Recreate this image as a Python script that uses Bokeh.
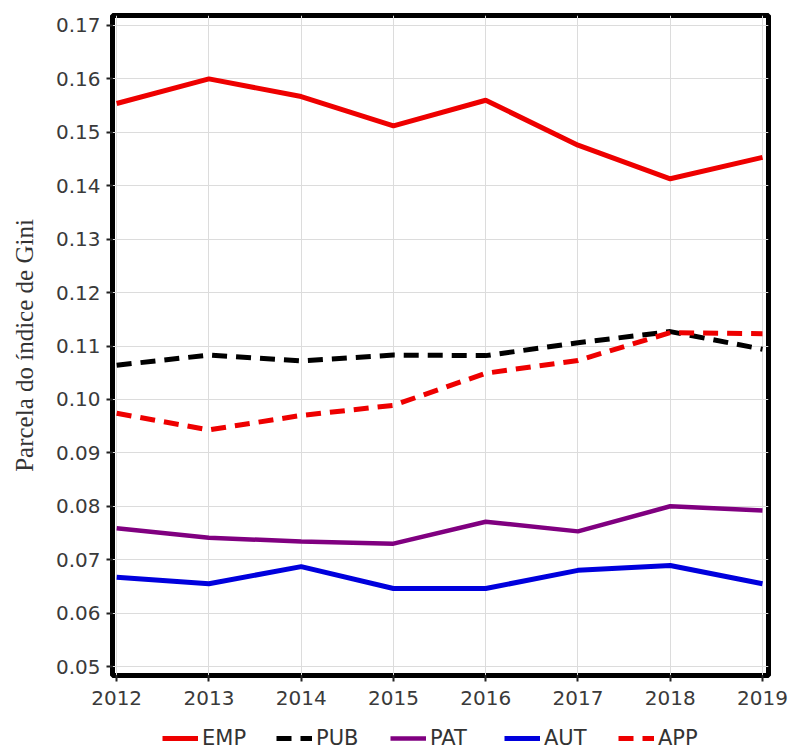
from bokeh.plotting import figure
from bokeh.layouts import column
from bokeh.models import Legend, LegendItem, FixedTicker, Range1d, CustomJSTickFormatter
from bokeh.embed import file_html
from bokeh.resources import INLINE

# Share of each income source in the Gini index, 2012-2019
years = [2012, 2013, 2014, 2015, 2016, 2017, 2018, 2019]
emp = [0.1554, 0.1600, 0.1567, 0.1512, 0.1560, 0.1476, 0.1413, 0.1453]
pub = [0.1064, 0.1083, 0.1072, 0.1083, 0.1082, 0.1106, 0.1127, 0.1094]
pat = [0.0759, 0.0741, 0.0734, 0.0730, 0.0771, 0.0753, 0.0800, 0.0792]
aut = [0.0667, 0.0655, 0.0687, 0.0646, 0.0646, 0.0680, 0.0689, 0.0655]
app = [0.0974, 0.0943, 0.0970, 0.0989, 0.1049, 0.1073, 0.1125, 0.1123]

series_names = ["EMP", "PUB", "PAT", "AUT", "APP"]
series_values = [emp, pub, pat, aut, app]
y_ticks = [0.05, 0.06, 0.07, 0.08, 0.09, 0.10, 0.11, 0.12, 0.13, 0.14, 0.15, 0.16, 0.17]

styles = [
    dict(line_color="#ee0000", line_width=5),
    dict(line_color="black", line_width=5, line_dash="15 9"),
    dict(line_color="#800080", line_width=4.5),
    dict(line_color="#0000dd", line_width=5),
    dict(line_color="#ee0000", line_width=5, line_dash="15 9"),
]

p = figure(
    width=791, height=713,
    output_backend="svg", toolbar_location=None,
    x_range=Range1d(2011.955, 2019.065),
    y_range=Range1d(0.04832, 0.17187),
    min_border_left=112, min_border_right=23,
    min_border_top=15, min_border_bottom=38,
)
p.background_fill_color = "white"
p.border_fill_color = "white"
p.outline_line_color = "black"
p.outline_line_width = 5

# grid
p.xgrid.grid_line_color = "#dcdcdc"
p.ygrid.grid_line_color = "#dcdcdc"
p.xgrid.grid_line_width = 1
p.ygrid.grid_line_width = 1

# axes
p.xaxis.ticker = FixedTicker(ticks=years)
p.yaxis.ticker = FixedTicker(ticks=y_ticks)
p.yaxis.formatter = CustomJSTickFormatter(code="return tick.toFixed(2);")
for ax in (p.xaxis[0], p.yaxis[0]):
    ax.axis_line_color = None
    ax.major_tick_in = 0
    ax.major_tick_out = 6
    ax.major_tick_line_color = "#222222"
    ax.major_tick_line_width = 2
    ax.minor_tick_line_color = None
    ax.major_label_text_font = "DejaVu Sans"
    ax.major_label_text_font_size = "20px"
    ax.major_label_text_color = "#3a3a3a"
p.xaxis.major_label_standoff = 9
p.yaxis.major_label_standoff = 6

p.yaxis.axis_label = "Parcela do índice de Gini"
p.yaxis.axis_label_text_font = "Liberation Serif"
p.yaxis.axis_label_text_font_size = "25px"
p.yaxis.axis_label_text_font_style = "normal"
p.yaxis.axis_label_text_color = "#333333"
p.yaxis.axis_label_standoff = 15

for vals, st in zip(series_values, styles):
    p.line(years, vals, **st)

# legend strip underneath the chart; its series sit outside the strip's
# visible range so that only the legend keys show
leg = figure(
    width=791, height=36,
    output_backend="svg", toolbar_location=None,
    x_axis_type=None, y_axis_type=None,
    x_range=Range1d(0, 1), y_range=Range1d(0, 1),
    min_border=0,
)
leg.outline_line_color = None
leg.grid.visible = False
keys = [leg.line(years, vals, **st) for vals, st in zip(series_values, styles)]
legend = Legend(
    items=[LegendItem(label=n, renderers=[r]) for n, r in zip(series_names, keys)],
    orientation="horizontal",
    location=(50, -1),
    glyph_width=36, glyph_height=20,
    label_standoff=4, label_width=48, spacing=26,
    padding=0, margin=0,
    border_line_color=None,
    background_fill_alpha=0,
    label_text_font="DejaVu Sans",
    label_text_font_size="21px",
    label_text_color="#333333",
)
leg.add_layout(legend, "center")

layout = column(p, leg, spacing=0)
open("out.html", "w").write(file_html(layout, INLINE))
